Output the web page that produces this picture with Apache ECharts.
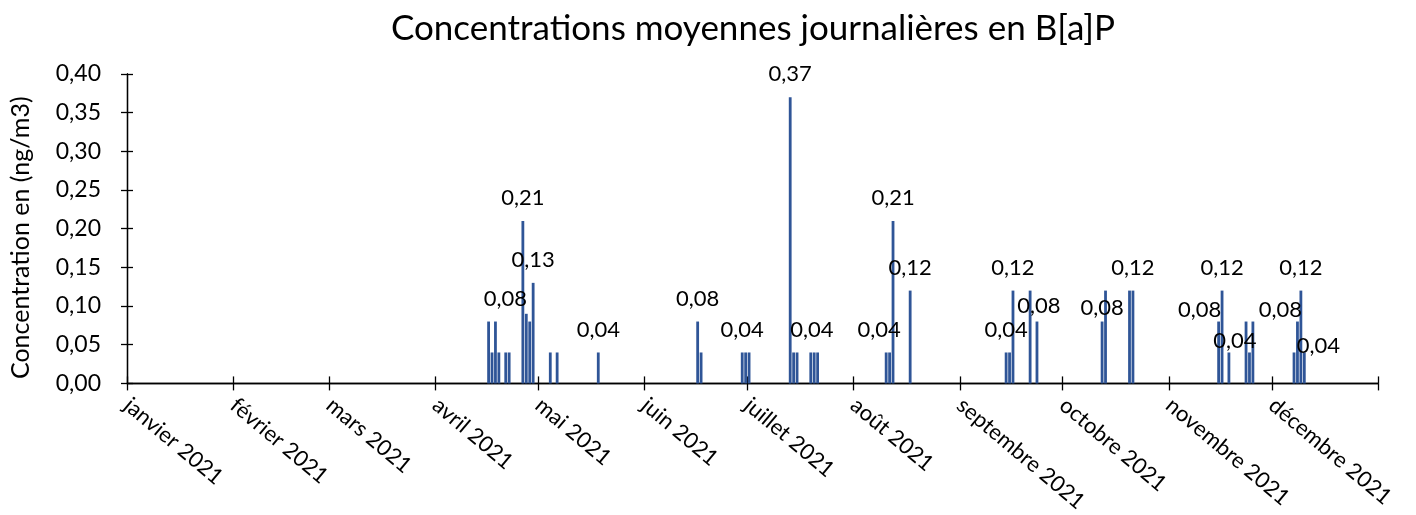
<!DOCTYPE html>
<html>
<head>
<meta charset="utf-8">
<script src="https://cdn.jsdelivr.net/npm/echarts@6/dist/echarts.min.js"></script>
<style>
html,body{margin:0;padding:0;background:#fff;}
#chart{width:1416px;height:515px;}
</style>
</head>
<body>
<div id="chart"></div>
<script>
// ---- data ----
const dates = ['2021-04-16','2021-04-17','2021-04-18','2021-04-19','2021-04-21','2021-04-22','2021-04-26','2021-04-27','2021-04-28','2021-04-29',
  '2021-05-04','2021-05-06','2021-05-18','2021-06-16','2021-06-17','2021-06-29','2021-06-30','2021-07-01',
  '2021-07-13','2021-07-14','2021-07-15','2021-07-19','2021-07-20','2021-07-21',
  '2021-08-10','2021-08-11','2021-08-12','2021-08-17',
  '2021-09-14','2021-09-15','2021-09-16','2021-09-21','2021-09-23',
  '2021-10-12','2021-10-13','2021-10-20','2021-10-21',
  '2021-11-15','2021-11-16','2021-11-18','2021-11-23','2021-11-24','2021-11-25',
  '2021-12-07','2021-12-08','2021-12-09','2021-12-10'];
const values = [0.08,0.04,0.08,0.04,0.04,0.04,0.21,0.09,0.08,0.13,
  0.04,0.04,0.04,0.08,0.04,0.04,0.04,0.04,
  0.37,0.04,0.04,0.04,0.04,0.04,
  0.04,0.04,0.21,0.12,
  0.04,0.04,0.12,0.12,0.08,
  0.08,0.12,0.12,0.12,
  0.08,0.12,0.04,0.08,0.04,0.08,
  0.04,0.08,0.12,0.04];
const labelledDates = ['2021-04-18','2021-04-26','2021-04-29','2021-05-18','2021-06-16','2021-06-29','2021-07-13','2021-07-19',
  '2021-08-10','2021-08-12','2021-08-17','2021-09-14','2021-09-16','2021-09-23','2021-10-12','2021-10-21',
  '2021-11-15','2021-11-16','2021-11-18','2021-12-08','2021-12-09','2021-12-10'];
const monthNames = ['janvier','février','mars','avril','mai','juin','juillet','août','septembre','octobre','novembre','décembre'];
const year = 2021;
const yTicks = [0,0.05,0.10,0.15,0.20,0.25,0.30,0.35,0.40];
const titleText = 'Concentrations moyennes journalières en B[a]P';
const yName = 'Concentration en (ng/m3)';

// ---- style: manual label shifts [dx, dy] in px ----
const labelShift = {
  '2021-04-18':[10,0], '2021-07-19':[1,0], '2021-08-10':[-7,0], '2021-09-23':[2,7], '2021-10-12':[0,9],
  '2021-11-15':[-19,11], '2021-11-18':[6,11], '2021-12-08':[-17,11], '2021-12-10':[14,16]
};

const FONT = 'Lato';
const BLUE = '#2F5597';
function ts(s, h){ const p = s.split('-').map(Number); return new Date(p[0], p[1]-1, p[2], h||0).getTime(); }
const monthTicks = [];
for (let m = 0; m <= monthNames.length; m++) monthTicks.push(new Date(year, m, 1).getTime());
const xMin = monthTicks[0], xMax = monthTicks[monthTicks.length-1];
const fmt = v => v.toFixed(2).replace('.', ',');

const seriesData = dates.map((d, i) => {
  const item = { value: [ts(d, 12), values[i]] };
  if (labelledDates.indexOf(d) >= 0) {
    const sh = labelShift[d] || [0,0];
    item.label = { show: true, offset: sh };
  }
  return item;
});

const chart = echarts.init(document.getElementById('chart'));
const xCommon = {
  type: 'value', min: xMin, max: xMax, position: 'bottom',
  splitLine: { show: false },
  axisLine: { show: true, lineStyle: { color: '#000', width: 1.3 } }
};
const yCommon = {
  type: 'value', min: yTicks[0], max: yTicks[yTicks.length-1], interval: 0.05, position: 'left',
  splitLine: { show: false },
  axisLine: { show: true, lineStyle: { color: '#000', width: 1.3 } }
};
chart.setOption({
  animation: false,
  textStyle: { fontFamily: FONT },
  title: {
    text: titleText, left: 748, top: 6, textAlign: 'center',
    textStyle: { fontFamily: FONT, fontSize: 35, fontWeight: 'normal', color: '#000' }
  },
  grid: { left: 123, right: 38, top: 74, bottom: 129, containLabel: false },
  xAxis: [
    Object.assign({}, xCommon, {
      axisTick: { show: true, inside: false, length: 7, customValues: monthTicks, lineStyle: { color: '#000', width: 1.3 } },
      axisLabel: {
        show: true, rotate: -40, margin: 19, padding: [18, 0, 0, 0], customValues: monthTicks.slice(0, monthNames.length),
        fontFamily: FONT, fontSize: 22, color: '#000', fontWeight: 'normal',
        formatter: v => { const d = new Date(v); return d.getFullYear() === year ? monthNames[d.getMonth()] + ' ' + year : ''; }
      }
    }),
    Object.assign({}, xCommon, {
      axisTick: { show: true, inside: true, length: 7, customValues: monthTicks, lineStyle: { color: '#000', width: 1.3 } },
      axisLabel: { show: false }
    })
  ],
  yAxis: [
    Object.assign({}, yCommon, {
      name: yName, nameLocation: 'middle', nameRotate: 90, nameGap: 94,
      nameTextStyle: { fontFamily: FONT, fontSize: 25, color: '#000', padding: [0, 18, 0, 0] },
      axisTick: { show: true, inside: false, length: 6, lineStyle: { color: '#000', width: 1.3 } },
      axisLabel: { fontFamily: FONT, fontSize: 23, color: '#000', margin: 26, formatter: fmt }
    }),
    Object.assign({}, yCommon, {
      axisTick: { show: true, inside: true, length: 6, lineStyle: { color: '#000', width: 1.3 } },
      axisLabel: { show: false }
    })
  ],
  series: [{
    type: 'bar', xAxisIndex: 0, yAxisIndex: 0,
    data: seriesData, barWidth: 2.8,
    itemStyle: { color: BLUE },
    label: {
      show: false, position: 'top', distance: 12,
      fontFamily: FONT, fontSize: 22, color: '#000',
      formatter: p => fmt(p.value[1])
    }
  }]
});
</script>
</body>
</html>
